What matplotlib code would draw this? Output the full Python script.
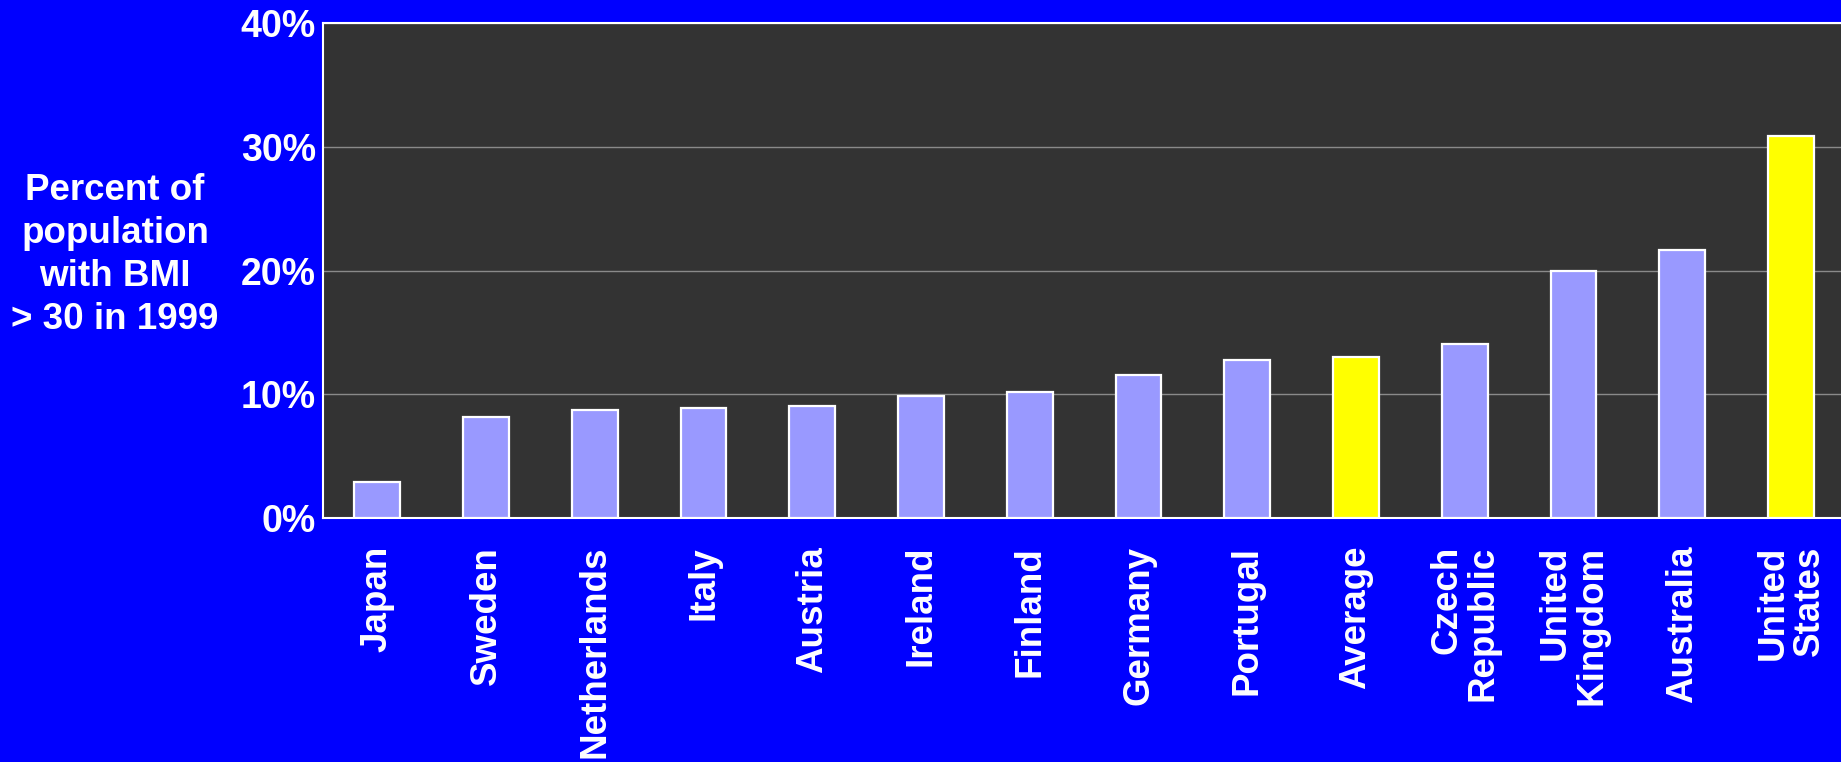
import matplotlib
matplotlib.use("Agg")
from matplotlib import pyplot as plt

countries = ["Japan", "Sweden", "Netherlands", "Italy", "Austria", "Ireland",
             "Finland", "Germany", "Portugal", "Average", "Czech\nRepublic",
             "United\nKingdom", "Australia", "United\nStates"]
obesity = [2.9, 8.2, 8.7, 8.9, 9.1, 9.9, 10.2, 11.6, 12.8, 13.0, 14.1, 20.0, 21.7, 30.9]
highlight = ["Average", "United\nStates"]

plt.rcParams['font.family'] = ['Liberation Sans', 'DejaVu Sans']
plt.rcParams['font.weight'] = 'bold'

fig = plt.figure(figsize=(18.41, 7.62), dpi=100, facecolor='#0000FF')
ax = fig.add_axes([0.1754, 0.3202, 0.8246, 0.649])
ax.set_facecolor('#333333')

colors = ['#FFFF00' if c in highlight else '#9999FF' for c in countries]
x = list(range(len(countries)))
ax.bar(x, obesity, width=0.42, color=colors, edgecolor='white', linewidth=1.6, zorder=3)

ax.set_ylim(0, 40)
ax.set_xlim(-0.5, 13.46)
ax.set_yticks([0, 10, 20, 30, 40])
ax.set_yticklabels(['0%', '10%', '20%', '30%', '40%'])
ax.yaxis.grid(True, color='#8a8a8a', linewidth=1.0, zorder=0)
ax.set_axisbelow(True)

ax.set_xticks(x)
ax.set_xticklabels(countries, rotation=90, va='top', ha='center',
                   multialignment='right', linespacing=1.05)
ax.tick_params(axis='x', length=0, pad=20, labelsize=26.5, labelcolor='white')
ax.tick_params(axis='y', length=0, pad=5, labelsize=27, labelcolor='white')

for side in ['left', 'top', 'bottom']:
    ax.spines[side].set_color('white')
    ax.spines[side].set_linewidth(1.5)
ax.spines['right'].set_visible(False)

fig.text(0.0625, 0.665, "Percent of\npopulation\nwith BMI\n> 30 in 1999",
         ha='center', va='center', color='white', fontsize=26.5,
         fontweight='bold', linespacing=1.3)

fig.savefig('out.png', dpi=100, facecolor=fig.get_facecolor())
